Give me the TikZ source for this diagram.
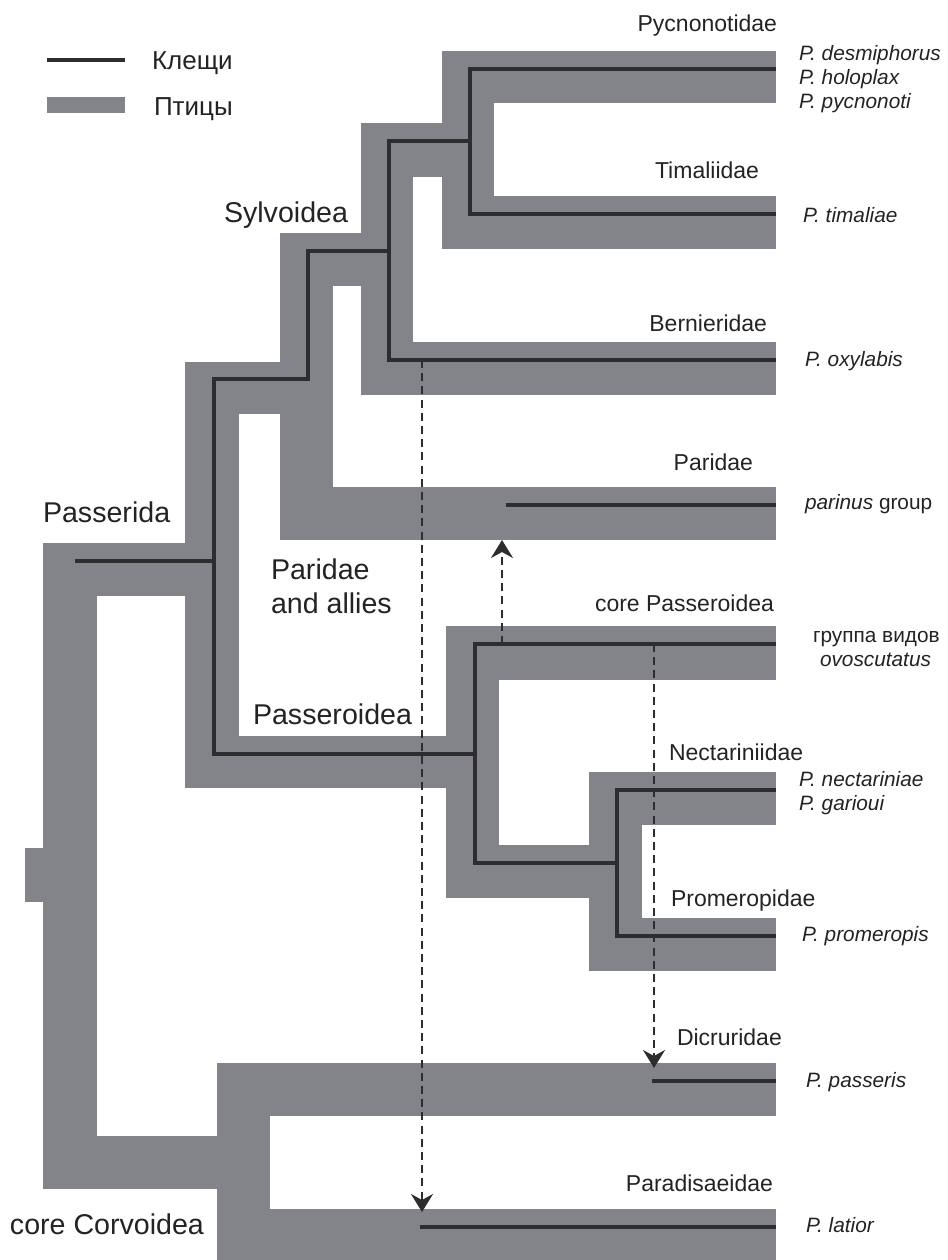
\documentclass[tikz,border=0pt]{standalone}
\usepackage{fontspec}
\setmainfont{Liberation Sans}
\usetikzlibrary{arrows.meta}
\definecolor{band}{RGB}{131,132,137}
\definecolor{ink}{RGB}{45,45,48}
\definecolor{txt}{RGB}{35,35,38}

\begin{document}
\begin{tikzpicture}[x=0.5pt,y=-0.5pt,
  host/.style={fill=band,draw=none},
  mite/.style={draw=ink,line width=2.2pt,line join=miter},
  switch/.style={draw=ink,line width=1.1pt,dash pattern=on 4pt off 2.6pt,
    -{Stealth[length=9pt,width=11pt,inset=3pt]}},
  lbl/.style={inner sep=0pt,outer sep=0pt,text=txt},
  keytext/.style={lbl,font=\fontsize{13}{15}\selectfont},
  clade/.style={lbl,font=\fontsize{14.3}{16}\selectfont},
  family/.style={lbl,font=\fontsize{11.5}{13}\selectfont},
  species/.style={lbl,font=\fontsize{10.4}{12}\selectfont\itshape},
  plain/.style={lbl,font=\fontsize{10.4}{12}\selectfont}]

\useasboundingbox (0,0) rectangle (948,1260);

% ---------- host tree (grey bands) ----------
% legend swatch
\fill[host] (47,97) rectangle (125,113);
% Sylvoidea
\fill[host] (442,51) rectangle (776,103);   % Pycnonotidae
\fill[host] (442,196) rectangle (776,249);  % Timaliidae
\fill[host] (442,51) rectangle (494,249);
\fill[host] (361,123) rectangle (442,177);
\fill[host] (361,123) rectangle (413,395);
\fill[host] (361,342) rectangle (776,395);  % Bernieridae
\fill[host] (280,233) rectangle (361,286);
\fill[host] (280,233) rectangle (333,540);
\fill[host] (280,487) rectangle (776,540);  % Paridae
\fill[host] (185,362) rectangle (280,414);
% Passerida
\fill[host] (185,362) rectangle (239,788);
\fill[host] (43,543) rectangle (185,596);
% Passeroidea
\fill[host] (185,736) rectangle (446,788);
\fill[host] (446,626) rectangle (499,898);
\fill[host] (446,626) rectangle (776,680);  % core Passeroidea
\fill[host] (446,845) rectangle (589,898);
\fill[host] (589,772) rectangle (642,971);
\fill[host] (589,772) rectangle (776,825);  % Nectariniidae
\fill[host] (589,918) rectangle (776,971);  % Promeropidae
% root and core Corvoidea
\fill[host] (43,543) rectangle (97,1189);
\fill[host] (25,848) rectangle (43,902);
\fill[host] (43,1136) rectangle (217,1189);
\fill[host] (217,1063) rectangle (270,1260);
\fill[host] (217,1063) rectangle (776,1116); % Dicruridae
\fill[host] (217,1209) rectangle (776,1260); % Paradisaeidae

% ---------- mite tree (dark lines) ----------
\draw[mite] (47,60) -- (125,60);
\draw[mite] (776,69) -- (470,69) -- (470,214) -- (776,214);
\draw[mite] (470,141) -- (389,141) -- (389,360) -- (776,360);
\draw[mite] (389,251) -- (308,251) -- (308,379) -- (214,379) -- (214,754) -- (475,754);
\draw[mite] (75,561) -- (214,561);
\draw[mite] (776,644) -- (475,644) -- (475,863) -- (617,863);
\draw[mite] (776,790) -- (617,790) -- (617,936) -- (776,936);
\draw[mite] (506,505) -- (776,505);
\draw[mite] (652,1081) -- (776,1081);
\draw[mite] (420,1227) -- (776,1227);

% ---------- host switches ----------
\coordinate (fromBern) at (422,360);
\coordinate (toParad) at (422,1212);
\coordinate (fromCoreA) at (502,644);
\coordinate (toPar) at (502,540);
\coordinate (fromCoreB) at (654,644);
\coordinate (toDicr) at (654,1068);
\draw[switch] (fromBern) -- (toParad);
\draw[switch] (fromCoreA) -- (toPar);
\draw[switch] (fromCoreB) -- (toDicr);

% ---------- legend ----------
\node[keytext,anchor=base west] (kMite) at (152,69) {Клещи};
\node[keytext,anchor=base west] (kHost) at (154,115) {Птицы};

% ---------- clade labels ----------
\node[clade,anchor=base west] (sylv) at (224,222) {Sylvoidea};
\node[clade,anchor=base west] (passerida) at (43,522) {Passerida};
\node[clade,anchor=base west] (paridA) at (271,579) {Paridae};
\node[clade,anchor=base west] (paridB) at (271,613) {and allies};
\node[clade,anchor=base west] (passeroidea) at (253,724) {Passeroidea};
\node[clade,anchor=base west] (corvoidea) at (10,1234) {core Corvoidea};

% ---------- family labels ----------
\node[family,anchor=base east] (fPyc) at (777,31) {Pycnonotidae};
\node[family,anchor=base east] (fTim) at (759,178) {Timaliidae};
\node[family,anchor=base east] (fBer) at (767,331) {Bernieridae};
\node[family,anchor=base east] (fPar) at (753,470) {Paridae};
\node[family,anchor=base east] (fCore) at (774,611) {core Passeroidea};
\node[family,anchor=base west] (fNec) at (669,760) {Nectariniidae};
\node[family,anchor=base west] (fPro) at (671,906) {Promeropidae};
\node[family,anchor=base west] (fDic) at (677,1045) {Dicruridae};
\node[family,anchor=base east] (fPara) at (773,1191) {Paradisaeidae};

% ---------- mite species ----------
\node[species,anchor=base west] (sDes) at (799,60) {P. desmiphorus};
\node[species,anchor=base west] (sHol) at (799,84) {P. holoplax};
\node[species,anchor=base west] (sPyc) at (799,108) {P. pycnonoti};
\node[species,anchor=base west] (sTim) at (803,222) {P. timaliae};
\node[species,anchor=base west] (sOxy) at (805,366) {P. oxylabis};
\node[plain,anchor=base west] (sPar) at (805,509) {\textit{parinus} group};
\node[plain,anchor=base west] (sOvoA) at (813,642) {группа видов};
\node[species,anchor=base west] (sOvoB) at (820,666) {ovoscutatus};
\node[species,anchor=base west] (sNec) at (799,786) {P. nectariniae};
\node[species,anchor=base west] (sGar) at (799,810) {P. garioui};
\node[species,anchor=base west] (sPro) at (802,941) {P. promeropis};
\node[species,anchor=base west] (sPas) at (806,1087) {P. passeris};
\node[species,anchor=base west] (sLat) at (806,1232) {P. latior};
\end{tikzpicture}
\end{document}
